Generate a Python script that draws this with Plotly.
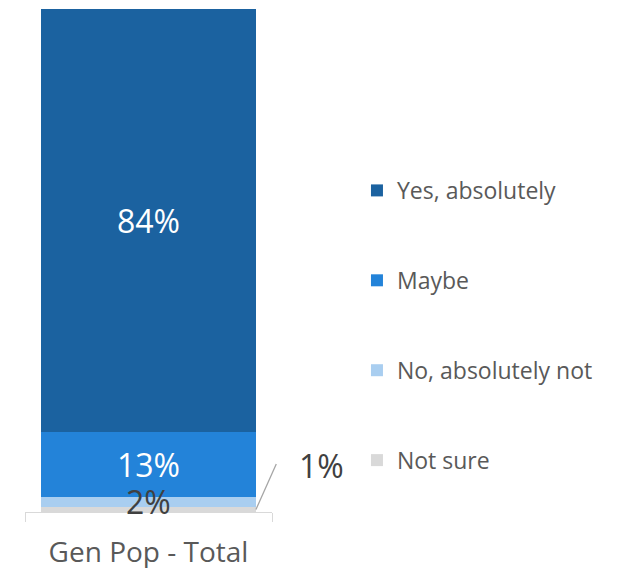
import plotly.graph_objects as go

categories = ["Gen Pop - Total"]
series_names = ["Not sure", "No, absolutely not", "Maybe", "Yes, absolutely"]
series_values = [[1], [2], [13], [84]]
series_colors = ["#D9D9D9", "#A9CEF0", "#2383D9", "#1B62A0"]
legend_ranks = [4, 3, 2, 1]

FONT = "Open Sans, Lato, sans-serif"
LABEL_SIZE = 32
bar_width = 0.87

fig = go.Figure()
for i, (name, vals, col) in enumerate(zip(series_names, series_values, series_colors)):
    inside = vals[0] >= 10
    fig.add_trace(go.Bar(
        x=categories, y=vals, name=name, marker=dict(color=col, line=dict(width=0)),
        width=bar_width,
        text=[f"{v}%" for v in vals] if inside else None,
        textposition="inside" if inside else "none",
        insidetextanchor="middle",
        constraintext="none",
        textfont=dict(color="#FFFFFF", size=LABEL_SIZE, family=FONT),
        legendgroup=name, legendrank=legend_ranks[i],
        hoverinfo="skip",
    ))

# label for the thin "No" segment (overflows the bar)
base_no = series_values[0][0]
no_val = series_values[1][0]
fig.add_annotation(x=categories[0], y=base_no + no_val / 2, xref="x", yref="y",
                   text=f"{no_val}%", showarrow=False, yanchor="middle",
                   font=dict(size=LABEL_SIZE, color="#404040", family=FONT))

# leader label for the smallest segment
ns_val = series_values[0][0]
fig.add_annotation(x=bar_width / 2, y=ns_val / 2, xref="x", yref="y", text="",
                   showarrow=True, arrowhead=0, arrowwidth=1.3, arrowcolor="#A6A6A6",
                   ax=21, ay=-47, axref="pixel", ayref="pixel", standoff=0, startstandoff=0)
fig.add_shape(type="line", xref="x", yref="y", xsizemode="pixel", ysizemode="pixel",
              xanchor=bar_width / 2, yanchor=ns_val / 2, x0=21, x1=33, y0=47, y1=47,
              line=dict(color="#A6A6A6", width=1.3))
fig.add_annotation(x=bar_width / 2, y=ns_val / 2, xref="x", yref="y", text=f"{ns_val}%",
                   showarrow=False, xanchor="left", yanchor="middle", xshift=41, yshift=44,
                   font=dict(size=LABEL_SIZE, color="#404040", family=FONT))

fig.update_layout(
    width=618, height=568,
    margin=dict(l=25, r=346, t=9, b=56, autoexpand=False),
    barmode="stack",
    paper_bgcolor="white", plot_bgcolor="white",
    font=dict(family=FONT, color="#595959"),
    showlegend=True,
    legend=dict(x=1.344, y=0.682, xanchor="left", yanchor="top",
                traceorder="grouped", tracegroupgap=57,
                font=dict(size=23, color="#595959", family=FONT),
                itemwidth=30),
    xaxis=dict(range=[-0.5, 0.5], showline=True, linecolor="#D9D9D9", linewidth=1.3,
               ticks="outside", tickson="boundaries", ticklen=9, tickcolor="#D9D9D9",
               tickwidth=1.3, tickfont=dict(size=28, color="#595959", family=FONT),
               ticklabelstandoff=15, automargin=False,
               showgrid=False, zeroline=False, fixedrange=True),
    yaxis=dict(range=[0, 100], visible=False, showgrid=False, zeroline=False,
               automargin=False),
)

fig.write_html("out.html", config={"displayModeBar": False},
               post_script="document.body.style.margin='0';")
